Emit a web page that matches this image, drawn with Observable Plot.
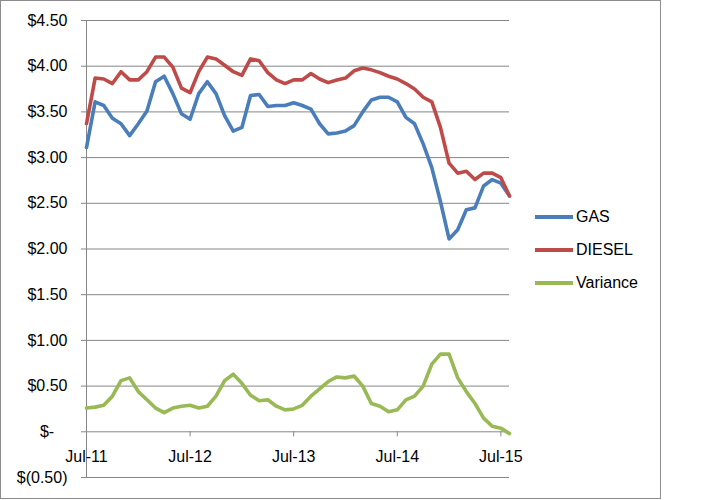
<!DOCTYPE html>
<html><head><meta charset="utf-8">
<script src="https://cdn.jsdelivr.net/npm/d3@7"></script>
<script src="https://cdn.jsdelivr.net/npm/@observablehq/plot@0.6"></script>
<style>
body{margin:0;background:#fff;}
#wrap{position:relative;width:720px;height:500px;font-family:"Liberation Sans",Arial,sans-serif;}
#frame{position:absolute;left:0;top:0;width:659px;height:497px;border:1px solid #8c8c8c;pointer-events:none;}
#legend{position:absolute;left:535px;top:0;width:125px;height:500px;}
.item{position:absolute;left:0;width:125px;height:20px;display:flex;align-items:center;font-size:16px;color:#000;}
.sw{width:38px;height:4px;margin-right:3px;}
#chart{position:absolute;left:0;top:0;}
</style></head>
<body><div id="wrap"><div id="chart"></div><div id="frame"></div><div id="legend"></div></div>
<script>
const months = ["Jul-11","Aug-11","Sep-11","Oct-11","Nov-11","Dec-11","Jan-12","Feb-12","Mar-12","Apr-12","May-12","Jun-12",
"Jul-12","Aug-12","Sep-12","Oct-12","Nov-12","Dec-12","Jan-13","Feb-13","Mar-13","Apr-13","May-13","Jun-13",
"Jul-13","Aug-13","Sep-13","Oct-13","Nov-13","Dec-13","Jan-14","Feb-14","Mar-14","Apr-14","May-14","Jun-14",
"Jul-14","Aug-14","Sep-14","Oct-14","Nov-14","Dec-14","Jan-15","Feb-15","Mar-15","Apr-15","May-15","Jun-15",
"Jul-15","Aug-15"];
const gas = [3.11,3.61,3.57,3.43,3.37,3.24,3.37,3.51,3.83,3.89,3.70,3.48,3.42,3.70,3.83,3.70,3.46,3.29,3.33,3.68,3.69,3.56,3.57,3.57,3.60,
3.57,3.53,3.37,3.26,3.27,3.29,3.35,3.50,3.63,3.66,3.66,3.61,3.44,3.37,3.15,2.89,2.52,2.11,2.21,2.43,2.45,2.69,2.76,2.72,2.58];
const diesel = [3.37,3.87,3.86,3.81,3.94,3.85,3.85,3.94,4.10,4.10,3.99,3.76,3.71,3.94,4.10,4.08,4.01,3.94,3.90,4.08,4.06,3.93,3.85,3.81,3.85,
3.85,3.92,3.86,3.82,3.85,3.87,3.95,3.98,3.96,3.93,3.89,3.86,3.81,3.75,3.66,3.61,3.33,2.94,2.83,2.85,2.76,2.83,2.83,2.78,2.58];
const variance = [0.26,0.27,0.29,0.39,0.56,0.59,0.44,0.35,0.26,0.21,0.26,0.28,0.29,0.26,0.28,0.39,0.56,0.63,0.53,0.40,0.34,0.35,0.28,0.24,0.25,
0.29,0.39,0.47,0.55,0.60,0.59,0.61,0.50,0.31,0.28,0.22,0.24,0.35,0.39,0.50,0.74,0.85,0.85,0.59,0.44,0.31,0.15,0.06,0.04,-0.02];
const seriesNames = ["GAS","DIESEL","Variance"];
const seriesColors = ["#4A7EBB","#BE4B48","#98B954"];
const yTicks = [-0.5,0,0.5,1,1.5,2,2.5,3,3.5,4,4.5];
const xTickIdx = [0,12,24,36,48];

const rows = [];
[gas, diesel, variance].forEach((arr, k) => arr.forEach((v, i) => rows.push({i, month: months[i], value: v, series: seriesNames[k]})));

const fmt = v => v === 0 ? "$-\u00a0\u00a0\u00a0" : v < 0 ? `$(${(-v).toFixed(2)})` : `$${v.toFixed(2)}`;

const chart = Plot.plot({
  width: 720, height: 500,
  marginLeft: 86, marginRight: 211, marginTop: 20, marginBottom: 23,
  style: {fontFamily: '"Liberation Sans", Arial, sans-serif', fontSize: "16px", color: "#000", background: "transparent"},
  x: {domain: [0, months.length - 1], axis: null},
  y: {domain: [-0.5, 4.5], axis: null},
  color: {domain: seriesNames, range: seriesColors},
  marks: [
    Plot.gridY(yTicks, {stroke: "#868686", strokeOpacity: 1, strokeWidth: 1}),
    Plot.ruleX([0], {stroke: "#868686"}),
    Plot.axisY(yTicks, {tickSize: 5, tickPadding: 14, tickFormat: fmt, stroke: "#868686", fill: "#000", fontSize: 16, label: null}),
    Plot.ruleX(xTickIdx, {x: d => d, y1: 0, y2: -0.055, stroke: "#868686"}),
    Plot.text(xTickIdx, {x: d => d, y: 0, dy: 25, text: d => months[d], fill: "#000", fontSize: 16}),
    Plot.line(rows, {x: "i", y: "value", z: "series", stroke: "series", strokeWidth: 3.6, strokeLinejoin: "round", strokeLinecap: "round"})
  ]
});
document.getElementById("chart").appendChild(chart);

const legend = d3.select("#legend");
const legendTop = [207, 240, 273];
seriesNames.forEach((name, k) => {
  const item = legend.append("div").attr("class", "item").style("top", legendTop[k] + "px");
  item.append("div").attr("class", "sw").style("background", seriesColors[k]);
  item.append("span").text(name);
});
</script>
</body></html>
